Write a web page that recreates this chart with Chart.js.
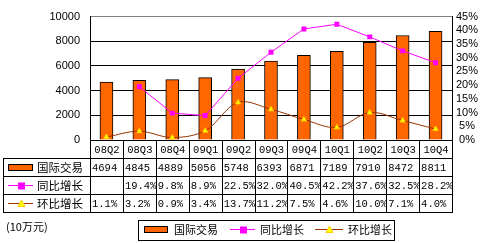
<!DOCTYPE html>
<html>
<head>
<meta charset="utf-8">
<script src="https://cdn.jsdelivr.net/npm/chart.js@4"></script>
<style>
  html, body { margin: 0; padding: 0; background: #fff; }
  #wrap { width: 482px; height: 243px; }
</style>
</head>
<body>
<div id="wrap"><canvas id="chart" width="482" height="243"></canvas></div>
<script>
"use strict";

// quarters and series
const categories = ["08Q2", "08Q3", "08Q4", "09Q1", "09Q2", "09Q3", "09Q4", "10Q1", "10Q2", "10Q3", "10Q4"];
const tradeVolume = [4694, 4845, 4889, 5056, 5748, 6393, 6871, 7189, 7910, 8472, 8811];
const yoyGrowth = [null, 19.4, 9.8, 8.9, 22.5, 32.0, 40.5, 42.2, 37.6, 32.5, 28.2];
const qoqGrowth = [1.1, 3.2, 0.9, 3.4, 13.7, 11.2, 7.5, 4.6, 10.0, 7.1, 4.0];
const unitLabel = "(10万元)";

const CJK = '"Noto Sans CJK SC", sans-serif';
const ROW_H = 18;
const TABLE_LEFT = 3;

function drawSymbol(ctx, ds, x1, x2, y) {
  ctx.save();
  if (ds.type === "line") {
    ctx.strokeStyle = ds.borderColor;
    ctx.lineWidth = 1;
    ctx.beginPath();
    ctx.moveTo(x1, y + 0.5);
    ctx.lineTo(x2, y + 0.5);
    ctx.stroke();
    const cx = Math.round((x1 + x2) / 2);
    ctx.fillStyle = ds.pointBackgroundColor;
    ctx.strokeStyle = ds.pointBorderColor;
    if (ds.pointStyle === "rect") {
      ctx.fillRect(cx - 3, y - 2.5, 7, 7);
    } else {
      ctx.beginPath();
      ctx.moveTo(cx + 0.5, y - 3);
      ctx.lineTo(cx + 4, y + 3.5);
      ctx.lineTo(cx - 3, y + 3.5);
      ctx.closePath();
      ctx.fill();
      ctx.stroke();
    }
  } else {
    ctx.fillStyle = ds.backgroundColor;
    ctx.fillRect(x1, y - 3, x2 - x1, 7);
    ctx.strokeStyle = "#000";
    ctx.lineWidth = 1;
    ctx.strokeRect(x1 + 0.5, y - 2.5, x2 - x1 - 1, 6);
  }
  ctx.restore();
}

function formatValue(ds, v) {
  if (v === null || v === undefined) return "";
  return ds.type === "line" ? v.toFixed(1) + "%" : String(v);
}

const dataTable = {
  id: "dataTable",
  afterDraw(chart) {
    const { ctx, chartArea, scales } = chart;
    const xs = scales.x;
    const colW = xs.getPixelForValue(1) - xs.getPixelForValue(0);
    const top = Math.round(chartArea.bottom);
    const right = Math.round(chartArea.right);
    const datasets = chart.data.datasets;
    const bottom = top + ROW_H * (datasets.length + 1);

    ctx.save();
    ctx.strokeStyle = "#000";
    ctx.lineWidth = 1;
    ctx.beginPath();
    // horizontal rules
    for (let r = 1; r <= datasets.length + 1; r++) {
      const y = top + ROW_H * r + 0.5;
      ctx.moveTo(TABLE_LEFT, y);
      ctx.lineTo(right + 1, y);
    }
    ctx.moveTo(TABLE_LEFT + 0.5, top + ROW_H);
    ctx.lineTo(TABLE_LEFT + 0.5, bottom + 1);
    // column rules
    for (let i = 0; i <= categories.length; i++) {
      const x = Math.round(xs.getPixelForValue(0) - colW / 2 + colW * i) + 0.5;
      ctx.moveTo(x, top);
      ctx.lineTo(x, bottom + 1);
    }
    ctx.stroke();

    // category row
    ctx.fillStyle = "#000";
    ctx.textBaseline = "middle";
    ctx.font = '10.5px "Liberation Mono", monospace';
    ctx.textAlign = "center";
    categories.forEach((c, i) => {
      ctx.fillText(c, xs.getPixelForValue(i) + 0.5, top + ROW_H / 2 + 1);
    });

    // data rows
    datasets.forEach((ds, r) => {
      const yMid = top + ROW_H * (r + 1) + ROW_H / 2;
      drawSymbol(ctx, ds, 8, 33, yMid);
      ctx.font = "11.5px " + CJK;
      ctx.textAlign = "left";
      ctx.fillStyle = "#000";
      ctx.fillText(ds.label, 37, yMid + 1);
      ctx.font = '10.5px "Liberation Mono", monospace';
      ds.data.forEach((v, i) => {
        const x = xs.getPixelForValue(i) - colW / 2 + 2;
        ctx.fillText(formatValue(ds, v), x, yMid + 1);
      });
    });

    // unit label
    ctx.font = "11px " + CJK;
    ctx.fillText(unitLabel, 6, 227);

    // legend box
    const lx1 = 138, lx2 = 394, ly1 = 220, ly2 = 240;
    ctx.strokeRect(lx1 + 0.5, ly1 + 0.5, lx2 - lx1, ly2 - ly1);
    const slots = [[144, 168, 174], [230, 255, 260], [315, 343, 348]];
    ctx.font = "11px " + CJK;
    datasets.forEach((ds, k) => {
      const [a, b, t] = slots[k];
      drawSymbol(ctx, ds, a, b, 229);
      ctx.fillStyle = "#000";
      ctx.fillText(ds.label, t, 230);
    });
    ctx.restore();
  },
};

const ctx = document.getElementById("chart").getContext("2d");

new Chart(ctx, {
  type: "bar",
  data: {
    labels: categories,
    datasets: [
      {
        type: "bar",
        label: "国际交易",
        data: tradeVolume,
        yAxisID: "y",
        backgroundColor: "#FF6600",
        borderColor: "#000",
        borderWidth: 1,
        barThickness: 13,
        order: 2,
      },
      {
        type: "line",
        label: "同比增长",
        data: yoyGrowth,
        yAxisID: "y1",
        borderColor: "#FF00FF",
        borderWidth: 1,
        pointStyle: "rect",
        pointRadius: 3.5,
        pointBackgroundColor: "#FF00FF",
        pointBorderColor: "#FF00FF",
        pointBorderWidth: 0,
        tension: 0,
        order: 1,
      },
      {
        type: "line",
        label: "环比增长",
        data: qoqGrowth,
        yAxisID: "y1",
        borderColor: "#993300",
        borderWidth: 1,
        pointStyle: "triangle",
        pointRadius: 3,
        pointBackgroundColor: "#FFFF00",
        pointBorderColor: "#FFCC00",
        pointBorderWidth: 1,
        tension: 0.35,
        order: 1,
      },
    ],
  },
  options: {
    responsive: false,
    animation: false,
    layout: { padding: { top: 8, bottom: 103, left: 0, right: 0 } },
    plugins: {
      legend: { display: false },
      tooltip: { enabled: false },
    },
    scales: {
      x: {
        display: false,
        offset: true,
      },
      y: {
        position: "left",
        min: 0,
        max: 10000,
        ticks: {
          stepSize: 2000,
          padding: 10,
          autoSkip: false,
          color: "#000",
          font: { family: '"Liberation Sans", Arial, sans-serif', size: 11 },
          callback: (v) => String(v),
        },
        grid: {
          color: (c) => (c.tick && c.tick.value === 10000 ? "#808080" : "#000"),
          drawTicks: false,
          lineWidth: 1,
        },
        border: { display: true, color: "#000" },
        afterFit: (s) => { s.width = 90; },
      },
      y1: {
        position: "right",
        min: 0,
        max: 45,
        ticks: {
          stepSize: 5,
          padding: 4,
          autoSkip: false,
          crossAlign: "center",
          color: "#000",
          font: { family: '"Liberation Sans", Arial, sans-serif', size: 11 },
          callback: (v) => v + "%",
        },
        grid: { drawOnChartArea: false, drawTicks: false },
        border: { display: true, color: "#000" },
        afterFit: (s) => { s.width = 30; },
      },
    },
  },
  plugins: [dataTable],
});
</script>
</body>
</html>
